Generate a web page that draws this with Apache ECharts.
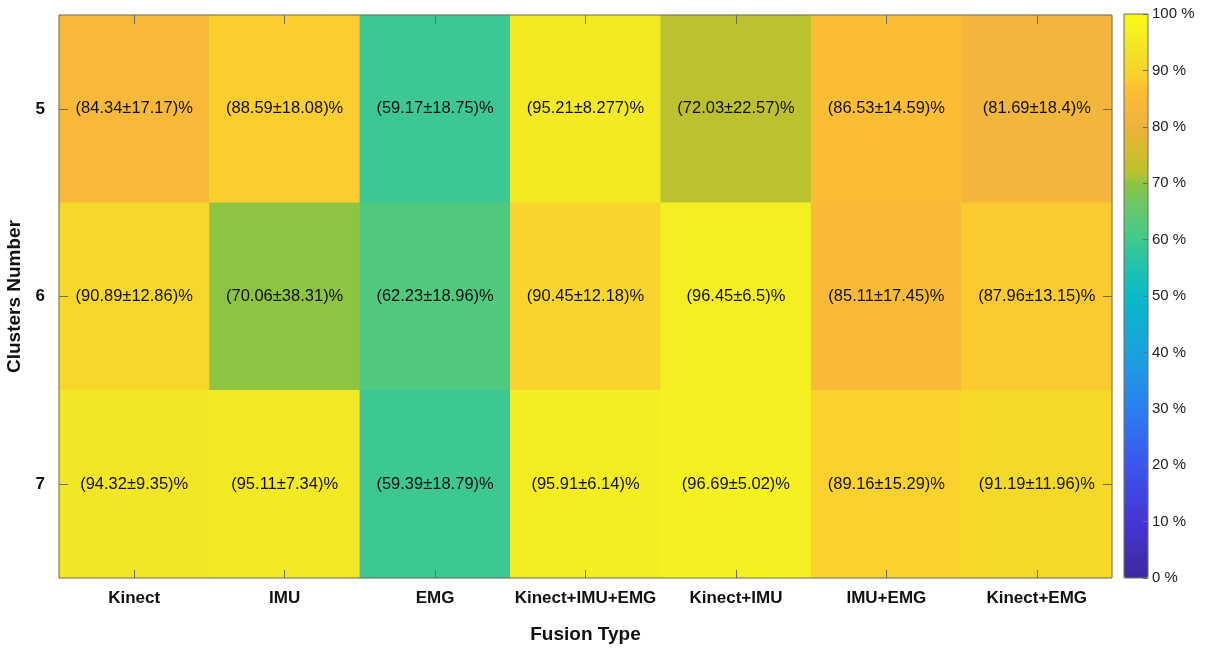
<!DOCTYPE html>
<html>
<head>
<meta charset="utf-8">
<script src="https://cdn.jsdelivr.net/npm/echarts@6/dist/echarts.min.js"></script>
<style>html,body{margin:0;padding:0;background:#fff;}#c{width:1228px;height:653px;}</style>
</head>
<body>
<div id="c"></div>
<script>
const fusionTypes = ['Kinect', 'IMU', 'EMG', 'Kinect+IMU+EMG', 'Kinect+IMU', 'IMU+EMG', 'Kinect+EMG'];
const clusters = ['5', '6', '7'];
const meanC5 = [84.34, 88.59, 59.17, 95.21, 72.03, 86.53, 81.69];
const stdC5  = [17.17, 18.08, 18.75, 8.277, 22.57, 14.59, 18.4];
const meanC6 = [90.89, 70.06, 62.23, 90.45, 96.45, 85.11, 87.96];
const stdC6  = [12.86, 38.31, 18.96, 12.18, 6.5, 17.45, 13.15];
const meanC7 = [94.32, 95.11, 59.39, 95.91, 96.69, 89.16, 91.19];
const stdC7  = [9.35, 7.34, 18.79, 6.14, 5.02, 15.29, 11.96];
const colorbarTicks = [0, 10, 20, 30, 40, 50, 60, 70, 80, 90, 100];

// colour stops (value %, colour)
const colorStops = [
  [0, '#3d2a9e'], [10, '#4535d6'], [20, '#3c55ee'], [30, '#2a7ff0'], [40, '#1aa2dc'],
  [50, '#08b9c8'], [55, '#20c2ae'], [60, '#40c98c'], [63, '#55c97b'], [67, '#72c760'],
  [70, '#8cc542'], [72, '#bcc22f'], [76, '#d6bb2f'], [80, '#eeb33b'], [82, '#f3b63c'],
  [84.5, '#f8b939'], [86.5, '#fbbd34'], [88, '#fbca2f'], [89, '#fad02d'], [90.5, '#f8d42c'],
  [91.2, '#f5d929'], [94.3, '#f3e626'], [95.5, '#f3eb23'], [96.7, '#f5f020'], [100, '#f9fb0e']
];
function hexToRgb(h){return [parseInt(h.substr(1,2),16),parseInt(h.substr(3,2),16),parseInt(h.substr(5,2),16)];}
function colorAt(v){
  for(let i=0;i<colorStops.length-1;i++){
    const a=colorStops[i], b=colorStops[i+1];
    if(v>=a[0] && v<=b[0]){
      const t=(v-a[0])/(b[0]-a[0]); const ca=hexToRgb(a[1]), cb=hexToRgb(b[1]);
      const c=ca.map((x,k)=>Math.round(x+(cb[k]-x)*t));
      return 'rgb('+c.join(',')+')';
    }
  }
  return colorStops[colorStops.length-1][1];
}
const gradient = [];
for(let i=0;i<=400;i++) gradient.push(colorAt(i/4));

const means = [meanC5, meanC6, meanC7];
const stds = [stdC5, stdC6, stdC7];
const data = [];
for(let r=0;r<clusters.length;r++){
  for(let c=0;c<fusionTypes.length;c++){
    data.push([c, r, means[r][c], stds[r][c]]);
  }
}

const font = 'Liberation Sans, Arial, sans-serif';
const axisColor = '#6e6e5e';
const chart = echarts.init(document.getElementById('c'));
chart.setOption({
  animation: false,
  textStyle: {fontFamily: font},
  grid: [
    {left: 59, right: 116, top: 15, bottom: 75, show: true, borderColor: axisColor, borderWidth: 1, z: 5,
     backgroundColor: 'transparent', containLabel: false, outerBoundsMode: 'none'},
    {left: 1124, width: 24, top: 14, height: 564, show: true, borderColor: axisColor, borderWidth: 1, z: 10,
     backgroundColor: 'transparent', containLabel: false, outerBoundsMode: 'none'}
  ],
  xAxis: [
    {type: 'category', gridIndex: 0, data: fusionTypes, position: 'bottom',
     axisLine: {show: false}, axisTick: {show: true, inside: true, alignWithLabel: true, length: 8, lineStyle: {color: axisColor}},
     axisLabel: {color: '#111', fontSize: 17, fontWeight: 'bold', margin: 12, interval: 0, fontFamily: font},
     name: 'Fusion Type', nameLocation: 'middle', nameGap: 47,
     nameTextStyle: {color: '#111', fontSize: 19, fontWeight: 'bold', fontFamily: font}, z: 10},
    {type: 'category', gridIndex: 0, data: fusionTypes, position: 'top',
     axisLine: {show: false}, axisTick: {show: true, inside: true, alignWithLabel: true, length: 9, interval: 0, lineStyle: {color: axisColor}},
     axisLabel: {show: false, interval: 0}, z: 10},
    {type: 'category', gridIndex: 1, data: [''], show: false}
  ],
  yAxis: [
    {type: 'category', gridIndex: 0, data: clusters, inverse: true, position: 'left',
     axisLine: {show: false}, axisTick: {show: true, inside: true, alignWithLabel: true, length: 9, lineStyle: {color: axisColor}},
     axisLabel: {color: '#111', fontSize: 17, fontWeight: 'bold', margin: 14, fontFamily: font},
     name: 'Clusters Number', nameLocation: 'middle', nameGap: 34, nameRotate: 90,
     nameTextStyle: {color: '#111', fontSize: 19, fontWeight: 'bold', fontFamily: font}, z: 10},
    {type: 'category', gridIndex: 0, data: clusters, inverse: true, position: 'right',
     axisLine: {show: false}, axisTick: {show: true, inside: true, alignWithLabel: true, length: 9, lineStyle: {color: axisColor}},
     axisLabel: {show: false}, z: 10},
    {type: 'value', gridIndex: 1, min: 0, max: 100, interval: 10, position: 'right',
     axisLine: {show: false}, splitLine: {show: false},
     axisTick: {show: true, inside: true, length: 5, lineStyle: {color: axisColor}},
     axisLabel: {color: '#222', fontSize: 15, margin: 4, fontFamily: font, formatter: '{value} %'}, z: 12}
  ],
  visualMap: {
    type: 'continuous', min: 0, max: 100, dimension: 2, seriesIndex: 0,
    calculable: false, orient: 'vertical', left: 1124, top: 14, itemWidth: 24, itemHeight: 564,
    padding: 0, text: null, showLabel: false,
    inRange: {color: gradient}
  },
  series: [{
    type: 'heatmap', xAxisIndex: 0, yAxisIndex: 0, data: data,
    label: {show: true, color: '#111', fontSize: 16.5, fontFamily: font,
      formatter: p => '(' + p.data[2] + '±' + p.data[3] + ')%'},
    emphasis: {disabled: true}
  }]
});
</script>
</body>
</html>
